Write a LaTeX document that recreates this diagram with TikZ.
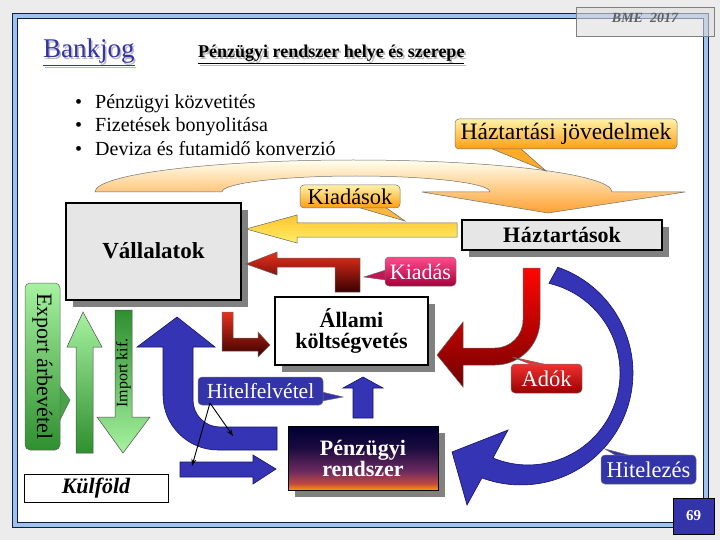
\documentclass[tikz,border=0pt]{standalone}
\usepackage{fontspec}
\setmainfont{Liberation Serif}
\usetikzlibrary{arrows.meta,shadows}
\definecolor{bgg}{HTML}{ECECEC}
\definecolor{frameblue}{HTML}{9CC3EC}
\definecolor{framedark}{HTML}{1A1A4A}
\definecolor{arblue}{HTML}{3434B4}
\definecolor{arblueD}{HTML}{14146A}
\definecolor{cblue}{HTML}{3333AA}
\definecolor{boxgray}{HTML}{E6E6E6}
\definecolor{shad}{HTML}{808080}
\definecolor{ovTop}{HTML}{FFF2A8}
\definecolor{ovBot}{HTML}{FF9E10}
\definecolor{yTop}{HTML}{FFFFF0}
\definecolor{yMid}{HTML}{FFE680}
\definecolor{yBot}{HTML}{FFA030}
\definecolor{ylTop}{HTML}{FFC430}
\definecolor{ylBot}{HTML}{FFEE66}
\definecolor{rTop}{HTML}{E8301C}
\definecolor{rBot}{HTML}{3A0000}
\definecolor{pkTop}{HTML}{FF4C8C}
\definecolor{pkBot}{HTML}{A8003C}
\definecolor{adTop}{HTML}{F03030}
\definecolor{adBot}{HTML}{9A0000}
\definecolor{gL}{HTML}{A6F2A0}
\definecolor{gD}{HTML}{2F8F2F}
\definecolor{sunO}{HTML}{FF9900}
\definecolor{sunR}{HTML}{C04A40}
\definecolor{sunP}{HTML}{6A2A60}
\definecolor{sunN}{HTML}{000033}
\definecolor{bankblue}{HTML}{3333AA}
\pgfdeclareverticalshading{sunset}{100bp}{color(0bp)=(sunO); color(25bp)=(sunO); color(30bp)=(sunR); color(40bp)=(sunP); color(58bp)=(sunN!75!sunP); color(75bp)=(sunN); color(100bp)=(sunN)}
\newcommand{\myfs}[1]{\fontsize{#1}{#1}\selectfont}
\newcommand{\shadowtext}[2]{\makebox[0pt][l]{\hspace{#1}\raisebox{-#1}{\color{gray!55}#2}}#2}
\tikzset{
  blueArr/.style={fill=arblue, draw=arblueD, line width=0.6},
  edgeThin/.style={draw=black!60, line width=0.5},
  mainbox/.style={draw=black, line width=2.6, inner sep=0, outer sep=0,
     drop shadow={shadow xshift=7pt, shadow yshift=-7pt, opacity=1, fill=shad}},
  callout/.style={rounded corners=4, draw=black!55, line width=0.5, inner sep=0, outer sep=0},
}
\begin{document}
\begin{tikzpicture}[x=1pt,y=-1pt]
\useasboundingbox (0,0) rectangle (720,540);
% background and frame
\fill[bgg] (0,0) rectangle (720,540);
\fill[white] (12,13) rectangle (708,527);
\draw[frameblue, line width=5] (14.5,15.5) rectangle (705.5,524.5);
\draw[framedark, line width=0.6] (12,13) rectangle (708,527);
\draw[framedark, line width=0.9] (17,18) rectangle (703,522);
% BME box
\node[fill=gray!25, fill opacity=0.6, draw=gray, line width=0.8, minimum width=138, minimum height=29, inner sep=0] (bme) at (645,21.5) {};
\node[text=gray!75!black, font=\myfs{14}\bfseries\itshape] (bmet) at (645,18) {BME\enspace 2017};
% titles
\node[anchor=base west, inner sep=0, text=bankblue, font=\myfs{27}] (bank) at (43,58) {\shadowtext{1.5pt}{\underline{Bankjog}}};
\node[anchor=base west, inner sep=0, font=\myfs{18}\bfseries] (tit) at (198,58) {\shadowtext{2pt}{\underline{Pénzügyi rendszer helye és szerepe}}};
% bullets
\foreach \y/\t [count=\i] in {109/Pénzügyi közvetités, 132/Fizetések bonyolitása, 156/Deviza és futamidő konverzió}{
  \node[anchor=base west, inner sep=0, font=\myfs{20}] (bul\i) at (75,\y) {•};
  \node[anchor=base west, inner sep=0, font=\myfs{20}] (bt\i) at (95,\y) {\t};
}
% big yellow curved arrow
\shadedraw[top color=yTop, middle color=yMid, bottom color=yBot, draw=black!55, line width=0.5]
  (95,192) arc[start angle=180, end angle=360, x radius=258.5, y radius=32]
  -- (685,192) -- (548,213) -- (422,192) -- (490,192)
  arc[start angle=0, end angle=-180, x radius=134, y radius=16] -- cycle;
% Haztartasi jovedelmek callout
\filldraw[fill=ovBot!85!ovTop, edgeThin] (490,148) -- (546,171) -- (520,148) -- cycle;
\node[callout, top color=ovTop, bottom color=ovBot, minimum width=222, minimum height=30, font=\myfs{23.5}] (hj) at (566,134) {Háztartási jövedelmek};
% main boxes
\node[mainbox, fill=boxgray, minimum width=175, minimum height=97, font=\myfs{23}\bfseries] (vall) at (153.5,251.5) {\raisebox{2pt}{Vállalatok}};
\node[mainbox, fill=boxgray, minimum width=200, minimum height=30, font=\myfs{22}\bfseries] (haz) at (562,235) {H\kern0.6pt á\kern0.6pt z\kern0.6pt tartások};
% yellow left arrow
\shadedraw[top color=ylTop, bottom color=ylBot, edgeThin]
  (457,223) -- (297,223) -- (297,215) -- (246,229) -- (297,243) -- (297,237) -- (457,237) -- cycle;
% Kiadasok callout
\filldraw[fill=ovBot!70!ovTop, edgeThin] (357,207) -- (405,221) -- (385,207) -- cycle;
\node[callout, top color=ovTop, bottom color=ovBot, minimum width=100, minimum height=23, font=\myfs{22.5}] (kiad) at (350,196.5) {Kiadások};
% red L arrow (Kiadas)
\shadedraw[top color=rTop, bottom color=rBot, edgeThin]
  (246,264) -- (277,252) -- (277,258) -- (360,258) -- (360,292) -- (335,292) -- (335,267) -- (277,267) -- (277,275) -- cycle;
% Kiadas callout
\filldraw[fill=pkBot!70!pkTop, edgeThin] (386,270) -- (364,277) -- (386,280) -- cycle;
\node[callout, top color=pkTop, bottom color=pkBot, minimum width=71, minimum height=29, text=white, font=\myfs{22}] (kis) at (420.5,271.5) {Kiadás};
% Allami koltsegvetes
\node[mainbox, fill=white, minimum width=153, minimum height=68, align=center, font=\myfs{22}\bfseries] (allam) at (351.5,331) {Állami\\[-1pt]költségvetés};
% small red L arrow
\shadedraw[top color=rTop, bottom color=rBot, edgeThin]
  (222,312) -- (233,312) -- (233,338) -- (258,338) -- (258,332) -- (270,345) -- (258,357) -- (258,351) -- (222,351) -- cycle;
% red Adok arrow
\shadedraw[top color=red!95!orange, bottom color=red!45!black, edgeThin]
  (523,268) -- (523,320) arc[start angle=0, end angle=90, radius=28] -- (463,348) -- (463,322) -- (437,355) -- (463,387) -- (463,365) -- (495,365) arc[start angle=90, end angle=0, radius=45] -- (540,268) -- cycle;
% Adok callout
\filldraw[fill=adTop, edgeThin] (533,365) -- (512,357) -- (548,365) -- cycle;
\node[callout, top color=adTop, bottom color=adBot, minimum width=71, minimum height=29, text=white, font=\myfs{22.5}] (adok) at (546.5,378.5) {Adók};
% blue Hitelezes arc
\filldraw[blueArr] (557.8,267.2) arc[start angle=-70.8, end angle=110.4, radius=112] -- (467,505) -- (452,452) -- (508,430) -- (493,458) arc[start angle=112.4, end angle=-76.9, radius=92] -- cycle;
% Hitelezes callout
\filldraw[fill=cblue, edgeThin] (617,456) -- (605,449) -- (632,456) -- cycle;
\node[callout, fill=cblue, minimum width=95, minimum height=29, text=white, font=\myfs{22.5}] (hitz) at (648.5,469.5) {Hitelezés};
% blue U arrow
\filldraw[blueArr] (177,317) -- (215,347) -- (193,347) -- (193,400) arc[start angle=180, end angle=90, radius=27] -- (277,427) -- (277,450) -- (218,450) arc[start angle=90, end angle=180, radius=55] -- (163,347) -- (137,347) -- cycle;
% blue straight arrow
\filldraw[blueArr] (180,462) -- (253,462) -- (253,455) -- (276,469) -- (253,484) -- (253,477) -- (180,477) -- cycle;
% small blue up arrow
\filldraw[blueArr] (353,418) -- (353,388) -- (343,388) -- (363,377) -- (383,388) -- (373,388) -- (373,418) -- cycle;
% Penzugyi rendszer
\node[draw=black, line width=1, shading=sunset, inner sep=0, outer sep=0, minimum width=150, minimum height=64, align=center, text=white, font=\myfs{22}\bfseries,
  drop shadow={shadow xshift=7pt, shadow yshift=-7pt, opacity=1, fill=shad}] (penz) at (363,458) {Pénz\kern0.5pt ügyi\\[-1pt]rendszer};
% Hitelfelvetel callout
\filldraw[fill=cblue, edgeThin] (322,392) -- (343,397) -- (322,401) -- cycle;
\node[callout, fill=cblue, minimum width=125, minimum height=28, text=white, font=\myfs{21.5}] (hitf) at (260.5,391) {Hitelfelvétel};
\coordinate (hfs) at (210,403);
\coordinate (hfa) at (233,436);
\coordinate (hfb) at (192,466);
\draw[line width=0.9, -{Stealth[length=7pt, width=5pt]}] (hfs) -- (hfa);
\draw[line width=0.9, -{Stealth[length=7pt, width=5pt]}] (hfs) -- (hfb);
% green: Export arbevetel callout
\filldraw[fill=gD!80!gL, edgeThin] (59,385) -- (70,400) -- (59,422) -- cycle;
\shadedraw[top color=gL, bottom color=gD, edgeThin, rounded corners=5] (25,283) rectangle (60,450);
\node[rotate=-90, font=\myfs{22}, inner sep=0] (exp) at (42.5,366.5) {Export árbevétel};
% green up arrow
\shadedraw[top color=gL, bottom color=gD, draw=black!70, line width=0.5]
  (76,453) -- (93,453) -- (93,347) -- (102,347) -- (83,312) -- (67,347) -- (76,347) -- cycle;
% green down arrow
\shadedraw[top color=gD, bottom color=gL, draw=black!70, line width=0.5]
  (115,310) -- (132,310) -- (132,417) -- (150,417) -- (123,453) -- (97,417) -- (115,417) -- cycle;
\node[rotate=90, font=\myfs{16}, inner sep=0] (imp) at (123.5,373) {Import kif.};
% Kulfold
\node[draw=black, line width=0.8, fill=white, minimum width=144, minimum height=28, inner sep=0, font=\myfs{22}\bfseries\itshape] (kulf) at (96,488) {Külföld};
% page number
\node[draw=black, line width=1, fill=cblue, minimum width=41, minimum height=36, inner sep=0, text=white, font=\myfs{15}\bfseries] (pg) at (693.5,516) {69};
\end{tikzpicture}
\end{document}
